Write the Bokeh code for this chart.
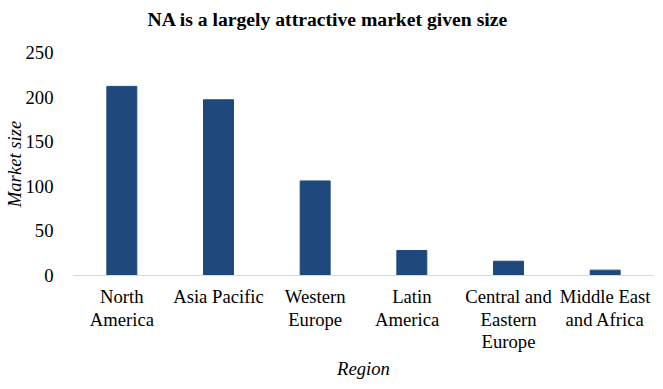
from bokeh.plotting import figure
from bokeh.models import Range1d, Title, CategoricalAxis, FactorRange
from bokeh.embed import file_html
from bokeh.resources import INLINE

regions = ["North America", "Asia Pacific", "Western Europe", "Latin America",
           "Central and Eastern Europe", "Middle East and Africa"]
label_line1 = ["North", "Asia Pacific", "Western", "Latin", "Central and", "Middle East"]
label_line2 = ["America", "", "Europe", "America", "Eastern", "and Africa"]
label_line3 = ["", "", "", "", "Europe", ""]
market_size = [212, 197, 106, 28, 16, 6]
y_ticks = [0, 50, 100, 150, 200, 250]

FONT = "Liberation Serif"
FS = "18.67px"


def unique_factors(labels):
    # factors must be unique: pad repeated labels with symmetric spaces
    seen = {}
    out = []
    for s in labels:
        n = seen.get(s, 0)
        seen[s] = n + 1
        pad = " " * n
        out.append((pad + s + pad) if s else " " * (n + 1))
    return out


p = figure(x_range=regions, y_range=Range1d(0, 250), frame_width=580, frame_height=223,
           output_backend="svg", toolbar_location=None,
           min_border_left=64, min_border_right=3, min_border_top=44, min_border_bottom=60)
p.title = None
# spacer between the title and the plot area
p.add_layout(Title(text=" ", standoff=11, text_font_size="1px"), "above")
p.add_layout(Title(text="NA is a largely attractive market given size", align="left", offset=74,
                   standoff=14, vertical_align="top",
                   text_font=FONT, text_font_size="19.67px", text_font_style="bold",
                   text_color="#000000"), "above")

p.vbar(x=regions, top=market_size, width=0.31, color="#1F497D")

p.xgrid.grid_line_color = None
p.ygrid.grid_line_color = None
p.outline_line_color = None

p.yaxis.ticker = y_ticks
p.yaxis.axis_line_color = None
p.yaxis.major_tick_line_color = None
p.yaxis.minor_tick_line_color = None
p.yaxis.major_label_standoff = 14
p.yaxis.axis_label = "Market size"
p.yaxis.axis_label_standoff = -2
p.yaxis.major_label_text_font = FONT
p.yaxis.major_label_text_font_size = FS
p.yaxis.major_label_text_color = "#000000"
p.yaxis.axis_label_text_font = FONT
p.yaxis.axis_label_text_font_size = FS
p.yaxis.axis_label_text_font_style = "italic"
p.yaxis.axis_label_text_color = "#000000"


def style_x(ax, standoff):
    ax.major_tick_line_color = None
    ax.minor_tick_line_color = None
    ax.major_label_standoff = standoff
    ax.major_label_text_font = FONT
    ax.major_label_text_font_size = FS
    ax.major_label_text_color = "#000000"
    ax.major_label_orientation = "horizontal"


xa1 = p.xaxis[0]
xa1.axis_line_color = "#D9D9D9"
xa1.axis_line_width = 1
xa1.major_label_text_alpha = 0
style_x(xa1, 6)

p.extra_x_ranges = {
    "line1": FactorRange(factors=unique_factors(label_line1)),
    "line2": FactorRange(factors=unique_factors(label_line2)),
    "line3": FactorRange(factors=unique_factors(label_line3)),
}

# the wrapped category labels are drawn line by line by stacked axes
xl1 = CategoricalAxis(x_range_name="line1", axis_line_color=None)
style_x(xl1, -2)
p.add_layout(xl1, "below")

xl2 = CategoricalAxis(x_range_name="line2", axis_line_color=None)
style_x(xl2, -7)
p.add_layout(xl2, "below")

xl3 = CategoricalAxis(x_range_name="line3", axis_line_color=None)
style_x(xl3, -8)
xl3.axis_label = "Region"
xl3.axis_label_standoff = 3
xl3.axis_label_text_font = FONT
xl3.axis_label_text_font_size = FS
xl3.axis_label_text_font_style = "italic"
xl3.axis_label_text_color = "#000000"
p.add_layout(xl3, "below")

open("out.html", "w").write(file_html(p, INLINE))
